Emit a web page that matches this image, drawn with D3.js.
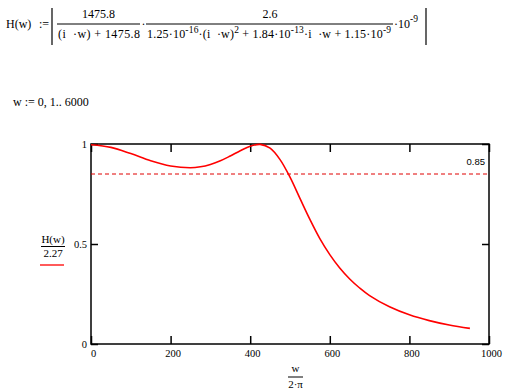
<!DOCTYPE html>
<html>
<head>
<meta charset="utf-8">
<script src="https://cdn.jsdelivr.net/npm/d3@7"></script>
<style>
  body { margin: 0; background: #fff; }
  svg { display: block; }
  .serif { font-family: "Liberation Serif", "Times New Roman", serif; fill: #000; }
  .axis text { font-family: "Liberation Serif", "Times New Roman", serif; font-size: 10.5px; fill: #000; }
  .axis line { stroke: #000; stroke-width: 1.5; }
  .axis path { display: none; }
</style>
</head>
<body>
<div id="chart"></div>
<script>
// curve: x = w/(2*pi), y = H(w)/2.27
var freqs = [0, 50, 100, 150, 200, 250, 275, 300, 325, 350, 375, 400, 425, 450, 475,
  500, 525, 550, 575, 600, 625, 650, 675, 700, 750, 800, 850, 900, 952];
var gains = [0.996, 0.983, 0.952, 0.916, 0.89, 0.881, 0.886, 0.898, 0.916, 0.94, 0.966, 0.989, 0.998, 0.979, 0.922,
  0.834, 0.728, 0.623, 0.527, 0.447, 0.38, 0.325, 0.28, 0.242, 0.186, 0.146, 0.117, 0.095, 0.078];

// marker line
var markerValue = 0.85;

// ticks
var xTicks = [0, 200, 400, 600, 800, 1000];
var yTicks = [0, 0.5, 1];

var width = 519;
var height = 391;

// plot box
var left = 91;
var right = 489;
var top_ = 144;
var bottom = 344;

var svg = d3
  .select("#chart")
  .append("svg")
  .attr("width", width)
  .attr("height", height);

// ---- worksheet text above the plot ----
var eq = svg.append("g").attr("class", "serif").style("font-size", "12px");

eq.append("text").attr("x", 6).attr("y", 28).text("H(w)");
eq.append("text").attr("x", 39).attr("y", 28).text(":=");

// absolute value bars
eq.append("line").attr("x1", 52).attr("x2", 52).attr("y1", 8).attr("y2", 45).attr("stroke", "#000").attr("stroke-width", 1.2);
eq.append("line").attr("x1", 426).attr("x2", 426).attr("y1", 8).attr("y2", 45).attr("stroke", "#000").attr("stroke-width", 1.2);

// first fraction
eq.append("line").attr("x1", 57).attr("x2", 140).attr("y1", 24).attr("y2", 24).attr("stroke", "#000");
eq.append("text").attr("x", 98.5).attr("y", 18).attr("text-anchor", "middle").text("1475.8");
eq.append("text").attr("x", 58).attr("y", 37.5)
  .attr("textLength", 82).attr("lengthAdjust", "spacing")
  .text("(i \u00a0\u00b7w) + 1475.8");
eq.append("text").attr("x", 141.5).attr("y", 28).text("\u00b7");

// second fraction
eq.append("line").attr("x1", 146).attr("x2", 393).attr("y1", 24).attr("y2", 24).attr("stroke", "#000");
eq.append("text").attr("x", 270).attr("y", 18).attr("text-anchor", "middle").text("2.6");

var den = eq.append("text").attr("x", 147).attr("y", 37.5)
  .attr("textLength", 244).attr("lengthAdjust", "spacing");
den.append("tspan").text("1.25\u00b710");
den.append("tspan").attr("dy", -5).style("font-size", "9.5px").text("-16");
den.append("tspan").attr("dy", 5).text("\u00b7(i \u00a0\u00b7w)");
den.append("tspan").attr("dy", -5).style("font-size", "9.5px").text("2");
den.append("tspan").attr("dy", 5).text(" + 1.84\u00b710");
den.append("tspan").attr("dy", -5).style("font-size", "9.5px").text("-13");
den.append("tspan").attr("dy", 5).text("\u00b7i \u00a0\u00b7w + 1.15\u00b710");
den.append("tspan").attr("dy", -5).style("font-size", "9.5px").text("-9");

var tail = eq.append("text").attr("x", 394).attr("y", 28);
tail.append("tspan").text("\u00b710");
tail.append("tspan").attr("dy", -6).style("font-size", "9.5px").text("-9");

// range definition
svg.append("text").attr("class", "serif").style("font-size", "12px")
  .attr("x", 13).attr("y", 106).text("w := 0, 1.. 6000");

// ---- plot ----
var x_Scale = d3.scaleLinear().domain([0, 1000]).range([left, right]);
var y_Scale = d3.scaleLinear().domain([0, 1]).range([bottom, top_]);

// axes, ticks pointing inward on all four sides
svg.append("g").attr("class", "axis")
  .attr("transform", "translate(0," + bottom + ")")
  .call(d3.axisBottom(x_Scale).tickValues(xTicks).tickSize(-8).tickPadding(6).tickFormat(d3.format("d")))
  .selectAll("text").attr("dx", 2);
svg.append("g").attr("class", "axis")
  .attr("transform", "translate(0," + top_ + ")")
  .call(d3.axisTop(x_Scale).tickValues(xTicks).tickSize(-8).tickFormat(""));
svg.append("g").attr("class", "axis")
  .attr("transform", "translate(" + left + ",0)")
  .call(d3.axisLeft(y_Scale).tickValues(yTicks).tickSize(-7).tickPadding(4).tickFormat(function(d) { return d === 0.5 ? "0.5" : d; }));
svg.append("g").attr("class", "axis")
  .attr("transform", "translate(" + right + ",0)")
  .call(d3.axisRight(y_Scale).tickValues(yTicks).tickSize(-7).tickFormat(""));

// frame
svg.append("rect")
  .attr("x", left).attr("y", top_)
  .attr("width", right - left).attr("height", bottom - top_)
  .attr("fill", "none").attr("stroke", "#000").attr("stroke-width", 1.5);

// marker line
svg.append("line")
  .attr("x1", x_Scale(0)).attr("x2", x_Scale(1000))
  .attr("y1", y_Scale(markerValue)).attr("y2", y_Scale(markerValue))
  .attr("stroke", "#e00000").attr("stroke-width", 1).attr("stroke-dasharray", "4,3");
svg.append("text")
  .attr("x", 485).attr("y", y_Scale(markerValue) - 9)
  .attr("text-anchor", "end")
  .style("font-family", "'Liberation Sans', Arial, sans-serif")
  .style("font-size", "9.5px")
  .text("0.85");

// trace
var points = freqs.map(function(f, i) { return [f, gains[i]]; });
var line = d3.line()
  .x(function(d) { return x_Scale(d[0]); })
  .y(function(d) { return y_Scale(d[1]); })
  .curve(d3.curveCatmullRom);
svg.append("path")
  .datum(points)
  .attr("d", line)
  .attr("fill", "none")
  .attr("stroke", "#ff0000")
  .attr("stroke-width", 1.6);

// y label: H(w) / 2.27 with trace swatch
var yl = svg.append("g").attr("class", "serif").style("font-size", "11px");
yl.append("text").attr("x", 53).attr("y", 243).attr("text-anchor", "middle").text("H(w)");
yl.append("line").attr("x1", 41).attr("x2", 65).attr("y1", 246.5).attr("y2", 246.5).attr("stroke", "#000");
yl.append("text").attr("x", 53).attr("y", 257).attr("text-anchor", "middle").text("2.27");
yl.append("line").attr("x1", 40).attr("x2", 64).attr("y1", 265).attr("y2", 265).attr("stroke", "#ff0000").attr("stroke-width", 1.3);

// x label: w / 2·pi
var xl = svg.append("g").attr("class", "serif").style("font-size", "11px");
xl.append("text").attr("x", 295.5).attr("y", 372).attr("text-anchor", "middle").text("w");
xl.append("line").attr("x1", 288).attr("x2", 303).attr("y1", 377).attr("y2", 377).attr("stroke", "#000");
xl.append("text").attr("x", 295.5).attr("y", 388).attr("text-anchor", "middle").text("2\u00b7\u03c0");
</script>
</body>
</html>
